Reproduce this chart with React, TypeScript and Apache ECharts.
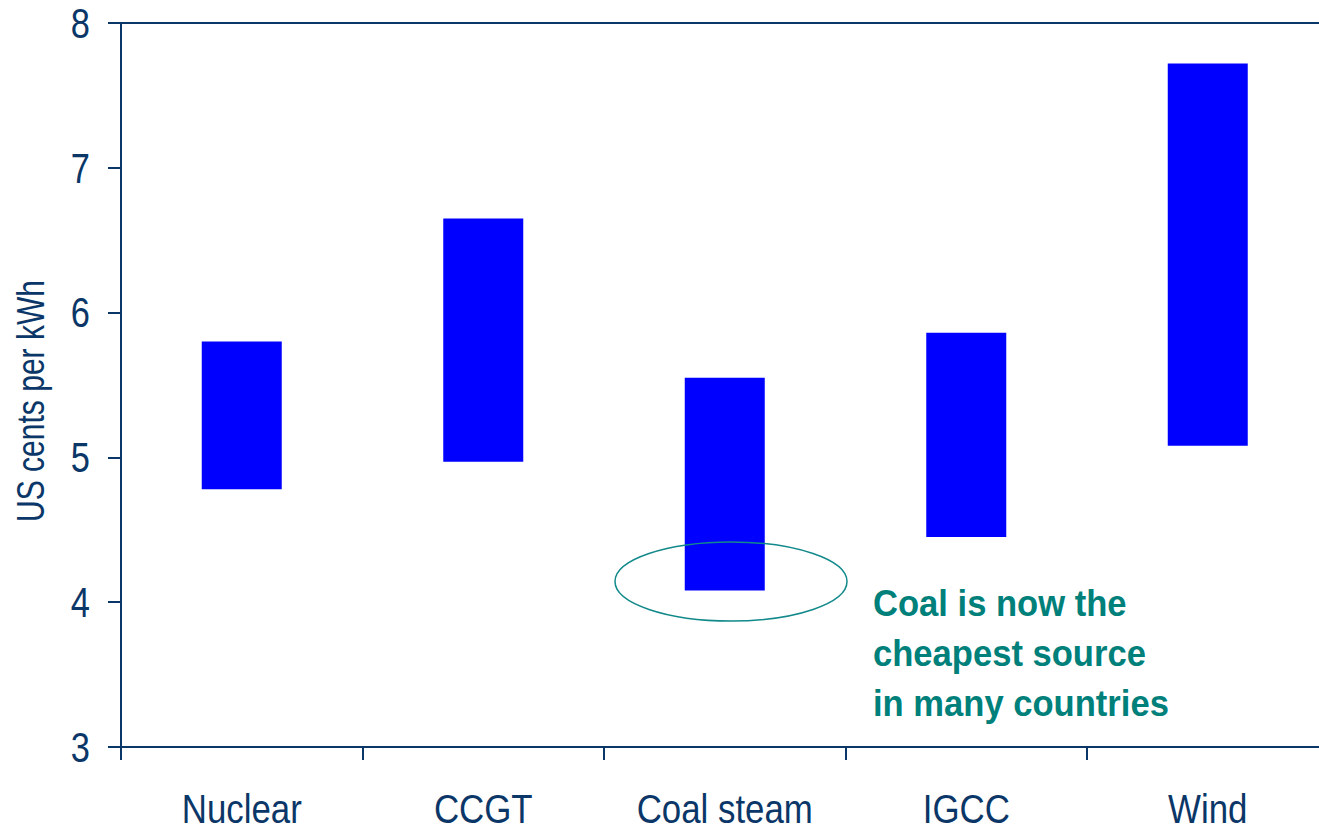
import React, { useEffect, useRef } from "react";
import * as echarts from "echarts";

const categories = ["Nuclear", "CCGT", "Coal steam", "IGCC", "Wind"];
const lowValues = [4.78, 4.97, 4.08, 4.45, 5.08];
const highValues = [5.8, 6.65, 5.55, 5.86, 7.72];
const yTickLabels = [3, 4, 5, 6, 7, 8];
const yAxisTitle = "US cents per kWh";
const annotationLines = ["Coal is now the", "cheapest source", "in many countries"];

const NAVY = "#0B3768";
const TEAL = "#00807A";
const SANS = '"Liberation Sans", Arial, sans-serif';

export default function App() {
  const ref = useRef<HTMLDivElement>(null);
  useEffect(() => {
    if (!ref.current) return;
    document.documentElement.style.overflow = "hidden";
    document.body.style.overflow = "hidden";
    document.body.style.margin = "0";
    const chart = echarts.init(ref.current, undefined, { renderer: "svg" });
    const spans = highValues.map((h, i) => +(h - lowValues[i]).toFixed(2));
    const yMin = yTickLabels[0];
    const yMax = yTickLabels[yTickLabels.length - 1];
    chart.setOption({
      animation: false,
      backgroundColor: "#ffffff",
      grid: { left: 121, top: 23, width: 1207.5, height: 724 },
      xAxis: [
        {
          type: "category",
          data: categories,
          axisLine: { lineStyle: { color: NAVY, width: 2 } },
          axisTick: { show: true, length: 13, lineStyle: { color: NAVY, width: 2 } },
          axisLabel: { show: false },
          splitLine: { show: false },
        },
        {
          type: "category",
          position: "top",
          data: categories,
          axisLine: { show: true, lineStyle: { color: NAVY, width: 2 } },
          axisTick: { show: false },
          axisLabel: { show: false },
          splitLine: { show: false },
        },
      ],
      yAxis: {
        type: "value",
        min: yMin,
        max: yMax,
        interval: 1,
        axisLine: { show: true, lineStyle: { color: NAVY, width: 2 } },
        axisTick: { show: true, length: 13, lineStyle: { color: NAVY, width: 2 } },
        axisLabel: { show: false },
        splitLine: { show: false },
      },
      series: [
        {
          type: "bar",
          stack: "range",
          data: lowValues,
          barWidth: 80,
          itemStyle: { color: "transparent" },
          silent: true,
        },
        {
          type: "bar",
          stack: "range",
          data: spans,
          barWidth: 80,
          itemStyle: { color: "#0000FF" },
        },
      ],
    });

    const axisBottom = chart.convertToPixel({ yAxisIndex: 0 }, yMin) as number;
    const catLabels = categories.map((c) => ({
      type: "text",
      x: chart.convertToPixel({ xAxisIndex: 0 }, c) as number,
      y: axisBottom + 61.5,
      scaleX: 0.85,
      style: {
        x: 0,
        y: 0,
        text: c,
        fill: NAVY,
        font: `41px ${SANS}`,
        lineHeight: 34,
        align: "center",
        verticalAlign: "middle",
      },
    }));
    const tickLabels = yTickLabels.map((v) => ({
      type: "text",
      x: 90,
      y: chart.convertToPixel({ yAxisIndex: 0 }, v) as number,
      scaleX: 0.82,
      style: {
        x: 0,
        y: 0,
        text: String(v),
        fill: NAVY,
        font: `42px ${SANS}`,
        align: "right",
        verticalAlign: "middle",
      },
    }));

    chart.setOption({
      graphic: [
        ...catLabels,
        ...tickLabels,
        {
          type: "text",
          x: 30,
          y: 401,
          rotation: Math.PI / 2,
          scaleX: 0.77,
          style: {
            x: 0,
            y: 0,
            text: yAxisTitle,
            fill: NAVY,
            font: `39px ${SANS}`,
            align: "center",
            verticalAlign: "middle",
          },
        },
        {
          type: "ellipse",
          shape: { cx: 731, cy: 581.5, rx: 116, ry: 39.5 },
          style: { fill: "none", stroke: "#12898A", lineWidth: 1.5 },
          z: 10,
        },
        {
          type: "text",
          x: 873,
          y: 579,
          scaleX: 0.935,
          style: {
            x: 0,
            y: 0,
            text: annotationLines.join("\n"),
            fill: TEAL,
            font: `bold 37px ${SANS}`,
            lineHeight: 50,
            align: "left",
            verticalAlign: "top",
          },
          z: 10,
        },
      ],
    });
    return () => chart.dispose();
  }, []);
  return (
    <div
      style={{
        position: "fixed",
        left: 0,
        top: 0,
        width: 1319,
        height: 829,
        overflow: "hidden",
        background: "#fff",
      }}
    >
      <div ref={ref} style={{ width: 1340, height: 829 }} />
    </div>
  );
}
